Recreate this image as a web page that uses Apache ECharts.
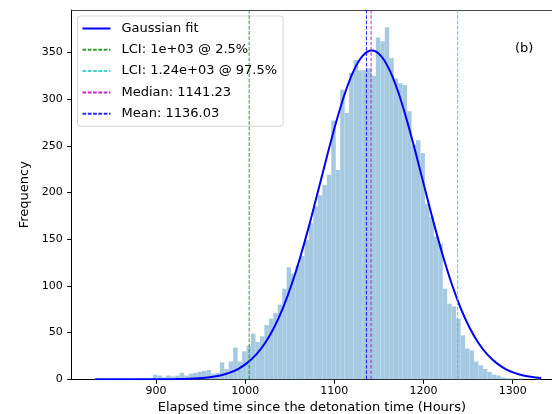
<!DOCTYPE html>
<html>
<head>
<meta charset="utf-8">
<script src="https://cdn.jsdelivr.net/npm/echarts@6/dist/echarts.min.js"></script>
<style>
  html, body { margin: 0; padding: 0; background: #fff; }
  #chart { width: 552px; height: 414px; }
</style>
</head>
<body>
<div id="chart"></div>
<script>
// histogram: 100 bins starting at binStart, width binWidth (hours)
const binStart = 831.6
const binWidth = 5.0
const counts = [
  1, 0, 0, 0, 0, 1, 0, 0, 0, 0,
  1, 0, 1, 5, 4, 2, 4, 3, 4, 7,
  4, 6, 7, 8, 9, 10, 6, 7, 18, 11,
  19, 34, 19, 30, 36, 49, 40, 46, 58, 65,
  71, 80, 97, 120, 113, 122, 132, 149, 167, 185,
  197, 208, 219, 277, 224, 310, 285, 328, 342, 331,
  331, 333, 325, 366, 362, 377, 344, 322, 317, 315,
  287, 251, 256, 242, 188, 174, 153, 145, 97, 81,
  78, 65, 47, 33, 31, 19, 15, 11, 8, 5,
  4, 2, 1, 1, 0, 1, 0, 0, 0, 1
]

// gaussian fit, every 10 h from 832 to 1332
const fitStart = 832
const fitStep = 10
const fitY = [
  0, 0, 0, 0, 0.01, 0.01, 0.02, 0.05, 0.1, 0.2,
  0.4, 0.75, 1.4, 2.4, 4.1, 6.9, 11.0, 17.3, 26.1, 38.4,
  54.7, 75.5, 101.2, 131.5, 165.6, 202.3, 239.6, 275.2, 306.5, 331.0,
  346.6, 352.0, 346.6, 331.0, 306.5, 275.2, 239.6, 202.3, 165.6, 131.5,
  101.2, 75.5, 54.7, 38.4, 26.1, 17.3, 11.0, 6.9, 4.1, 2.4,
  1.4
]

// reference lines
const refNames = ['LCI: 1e+03 @ 2.5%', 'LCI: 1.24e+03 @ 97.5%', 'Median: 1141.23', 'Mean: 1136.03']
const refValues = [1004.5, 1238.3, 1141.23, 1136.03]
const refColors = ['#108a10', '#22cccc', '#bf00bf', '#0000ff']

const xTicks = [900, 1000, 1100, 1200, 1300]
const yTicks = [0, 50, 100, 150, 200, 250, 300, 350]
// the right part of the axes is cut off by the picture edge
const xMin = 805.5, xMax = 1344.1
const yMin = 0, yMax = 395.4

const font = 'DejaVu Sans'

const histData = counts.map((c, i) => [binStart + i * binWidth, binStart + (i + 1) * binWidth, c])
const fitData = fitY.map((y, i) => [fitStart + i * fitStep, y])

const chart = echarts.init(document.getElementById('chart'))

const refSeries = refNames.map((name, i) => ({
  name: name,
  type: 'line',
  symbol: 'none',
  silent: true,
  z: 4,
  data: [[refValues[i], yMin], [refValues[i], yMax]],
  lineStyle: { color: refColors[i], width: 1, type: [3.7, 1.6], opacity: 0.85 },
  itemStyle: { color: refColors[i], opacity: 0.85 }
}))

chart.setOption({
  animation: false,
  textStyle: { fontFamily: font },
  grid: {
    left: 71.7, right: 0, top: 10, bottom: 34.7,
    outerBoundsMode: 'none',
    containLabel: false
  },
  title: {
    text: '(b)', left: 510, top: 37,
    textStyle: { fontFamily: font, fontSize: 13, fontWeight: 'normal', color: '#000' }
  },
  legend: {
    orient: 'vertical',
    left: 77.5, top: 16,
    padding: [6, 6, 6, 4],
    itemWidth: 28, itemHeight: 14, itemGap: 8.3,
    backgroundColor: 'rgba(255,255,255,0.8)',
    borderColor: '#d6d6d6', borderWidth: 1, borderRadius: 3,
    data: ['Gaussian fit'].concat(refNames),
    itemStyle: { opacity: 0 },
    textStyle: { fontFamily: font, fontSize: 13, color: '#000', padding: [0, 0, 0, 6] }
  },
  xAxis: [
    {
      type: 'value', min: xMin, max: xMax,
      name: 'Elapsed time since the detonation time (Hours)',
      nameLocation: 'middle', nameGap: 21,
      nameTextStyle: { fontFamily: font, fontSize: 13, color: '#000' },
      axisLine: { lineStyle: { color: '#000', width: 1 } },
      axisTick: { length: 4.5, lineStyle: { color: '#000' }, customValues: xTicks },
      axisLabel: {
        fontFamily: font, fontSize: 11, color: '#000', margin: 6, customValues: xTicks,
        formatter: v => String(v)
      },
      splitLine: { show: false }
    },
    {
      // top spine only
      type: 'value', min: xMin, max: xMax, position: 'top',
      axisLine: { show: true, lineStyle: { color: '#444', width: 1.2 } },
      axisTick: { show: false },
      axisLabel: { show: false },
      splitLine: { show: false }
    }
  ],
  yAxis: {
    type: 'value', min: yMin, max: yMax,
    name: 'Frequency',
    nameLocation: 'middle', nameGap: 27,
    nameTextStyle: { fontFamily: font, fontSize: 13, color: '#000' },
    axisLine: { show: true, lineStyle: { color: '#000', width: 1 } },
    axisTick: { show: true, length: 4.5, lineStyle: { color: '#000' }, customValues: yTicks },
    axisLabel: {
      fontFamily: font, fontSize: 11, color: '#000', margin: 9, customValues: yTicks,
      formatter: v => String(v)
    },
    splitLine: { show: false }
  },
  series: [
    {
      name: 'hist',
      type: 'custom',
      silent: true,
      z: 1,
      data: histData,
      encode: { x: [0, 1], y: 2 },
      renderItem: function (params, api) {
        const p0 = api.coord([api.value(0), api.value(2)])
        const p1 = api.coord([api.value(1), 0])
        return {
          type: 'rect',
          shape: { x: p0[0], y: p0[1], width: p1[0] - p0[0], height: p1[1] - p0[1] },
          style: { fill: '#a5c9e1' }
        }
      }
    },
    {
      name: 'Gaussian fit',
      type: 'line',
      symbol: 'none',
      smooth: 0.3,
      z: 3,
      data: fitData,
      lineStyle: { color: '#0000ff', width: 2 },
      itemStyle: { color: '#0000ff' }
    }
  ].concat(refSeries)
})
</script>
</body>
</html>
